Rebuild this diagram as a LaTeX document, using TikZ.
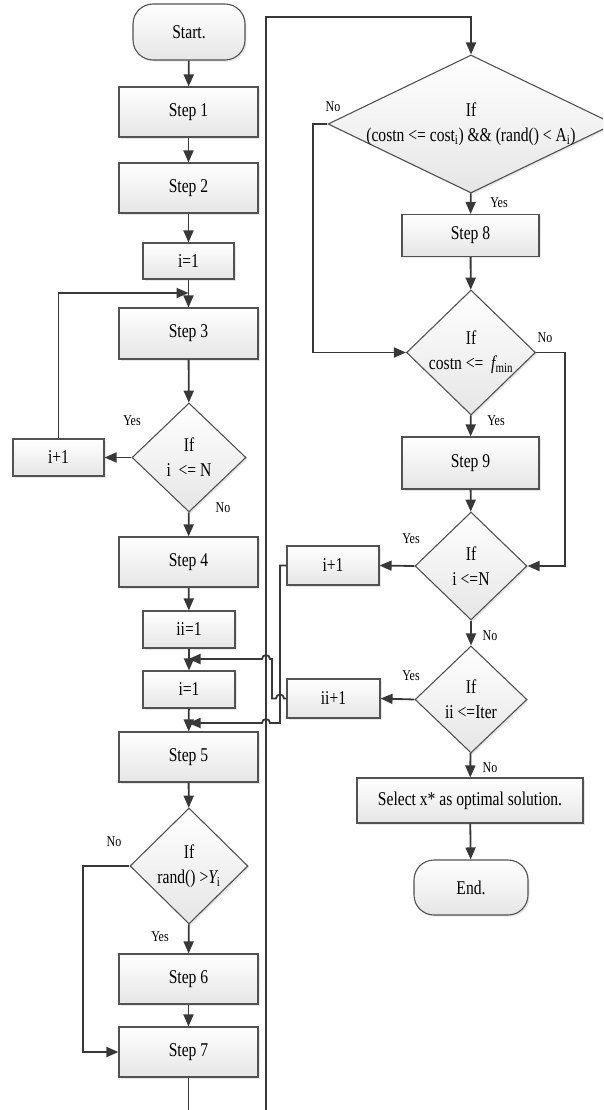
\documentclass[tikz,border=0pt]{standalone}
\usepackage{fontspec}
\setmainfont{Liberation Serif}[FakeStretch=0.8]
\usetikzlibrary{arrows.meta,shapes.geometric,shadows}

\tikzset{
  box/.style={draw=black!68, line width=1.1pt, top color=white, bottom color=black!10,
    drop shadow={shadow xshift=1.6pt, shadow yshift=-1.6pt, opacity=0.2},
    inner sep=0pt, font=\fontsize{19.5}{25}\selectfont, align=center},
  term/.style={box, rounded corners=20pt},
  dia/.style={box, diamond, aspect=1},
  dtext/.style={font=\fontsize{19.5}{25}\selectfont, align=center, inner sep=0pt},
  lbl/.style={font=\fontsize{15}{18}\selectfont, inner sep=0pt},
  wire/.style={draw=black!78, line width=1.8pt},
  flow/.style={wire, -{Triangle[length=12pt,width=10pt]}},
}

\begin{document}
\begin{tikzpicture}[x=1pt, y=-1pt]
\useasboundingbox (0,0) rectangle (603,1110);
\clip (0,0) rectangle (603,1110);

% ---- left column ----
\node[term, minimum width=112pt, minimum height=56pt] (start) at (189,32) {Start.};
\node[box, minimum width=139pt, minimum height=50pt] (s1) at (188.5,112) {Step 1};
\node[box, minimum width=139pt, minimum height=50pt] (s2) at (188.5,188) {Step 2};
\node[box, minimum width=91pt, minimum height=36pt] (i1) at (188.5,261) {i=1};
\node[box, minimum width=139pt, minimum height=51pt] (s3) at (188.5,333.5) {Step 3};
\node[dia, minimum width=114pt, minimum height=109pt] (d1) at (189,457.5) {};
\node[dtext] (d1t) at (d1) {If\\i \ <= N};
\node[box, minimum width=91pt, minimum height=37pt] (ip1L) at (58.5,457.5) {i+1};
\node[box, minimum width=139pt, minimum height=50pt] (s4) at (188.5,562) {Step 4};
\node[box, minimum width=92pt, minimum height=37pt] (ii1) at (189,629.5) {ii=1};
\node[box, minimum width=92pt, minimum height=37pt] (i1b) at (189,689.5) {i=1};
\node[box, minimum width=139pt, minimum height=50pt] (s5) at (188.5,757) {Step 5};
\node[dia, minimum width=118pt, minimum height=116pt] (d2) at (189,866) {};
\node[dtext] (d2t) at (d2) {If\\rand() >{\itshape Y}\textsubscript{i}};
\node[box, minimum width=139pt, minimum height=50pt] (s6) at (188.5,979) {Step 6};
\node[box, minimum width=139pt, minimum height=50pt] (s7) at (188.5,1052) {Step 7};

% ---- right column ----
\node[dia, minimum width=286pt, minimum height=138pt] (D1) at (471,124) {};
\node[dtext] (D1t) at (D1) {If\\(costn <= cost\textsubscript{i}) \&\& (rand() < A\textsubscript{i})};
\node[box, minimum width=137pt, minimum height=42pt] (s8) at (470.5,235.5) {Step 8};
\node[dia, minimum width=129pt, minimum height=125pt] (D2) at (471,352.5) {};
\node[dtext] (D2t) at (D2) {If\\costn <= \ {\itshape f}\textsubscript{min}};
\node[box, minimum width=137pt, minimum height=52pt] (s9) at (470.5,463) {Step 9};
\node[dia, minimum width=112pt, minimum height=108pt] (D3) at (471,566) {};
\node[dtext] (D3t) at (D3) {If\\i <=N};
\node[box, minimum width=92pt, minimum height=39pt] (ip1R) at (333,565.5) {i+1};
\node[dia, minimum width=112pt, minimum height=107pt] (D4) at (471,699.5) {};
\node[dtext] (D4t) at (D4) {If\\ii <=Iter};
\node[box, minimum width=93pt, minimum height=39pt] (iip1) at (333.5,698.5) {ii+1};
\node[box, minimum width=226pt, minimum height=45pt] (sel) at (470,800.5) {Select x* as optimal solution.};
\node[term, minimum width=114pt, minimum height=55pt] (end) at (471,887.5) {End.};

% ---- branch labels ----
\node[lbl] (l1) at (132,421) {Yes};
\node[lbl] (l2) at (223,508) {No};
\node[lbl] (l3) at (114,842) {No};
\node[lbl] (l4) at (160,937) {Yes};
\node[lbl] (l5) at (333,107) {No};
\node[lbl] (l6) at (499,203) {Yes};
\node[lbl] (l7) at (545,338) {No};
\node[lbl] (l8) at (496,421) {Yes};
\node[lbl] (l9) at (411,539) {Yes};
\node[lbl] (l10) at (490,636) {No};
\node[lbl] (l11) at (411,676) {Yes};
\node[lbl] (l12) at (490,768) {No};

% ---- junctions and free ends ----
\coordinate (j1) at (188.5,293);
\coordinate (j2) at (188.5,659);
\coordinate (j3) at (188.5,723);
\coordinate (bot) at (266,1110);
\coordinate (top) at (266,17);
\coordinate (out) at (188.5,1110);

% ---- left column flow ----
\draw[flow] (start) -- (s1);
\draw[flow] (s1) -- (s2);
\draw[flow] (s2) -- (i1);
\draw[flow] (i1) -- (s3);
\draw[flow] (s3) -- (d1);
\draw[flow] (d1) -- (s4);
\draw[flow] (d1.west) -- (ip1L.east);
\draw[flow] (ip1L.north) |- (j1);
\draw[flow] (s4) -- (ii1);
\draw[flow] (ii1) -- (i1b);
\draw[flow] (i1b) -- (s5);
\draw[flow] (s5) -- (d2);
\draw[flow] (d2) -- (s6);
\draw[flow] (s6) -- (s7);
\draw[flow] (d2.west) -- (83,866) |- (s7.west);
\draw[wire] (s7.south) -- (out);

% ---- long return line to the right column ----
\draw[flow] (bot) -- (top) -| (D1.north);

% ---- right column flow ----
\draw[flow] (D1) -- (s8);
\draw[flow] (s8) -- (D2);
\draw[flow] (D1.west) -- (313,124) |- (D2.west);
\draw[flow] (D2) -- (s9);
\draw[flow] (D2.east) -- (565,352.5) |- (D3.east);
\draw[flow] (s9) -- (D3);
\draw[flow] (D3.west) -- (ip1R.east);
\draw[flow] (D3) -- (D4);
\draw[flow] (D4.west) -- (iip1.east);
\draw[flow] (D4) -- (sel);
\draw[flow] (sel) -- (end);

% ---- loop-backs with line hops ----
\draw[flow] (ip1R.west) -- (280,565.5) -- (280,723) -- (270,723)
  arc[start angle=0, end angle=-180, radius=4] -- (j3);
\draw[flow] (iip1.west) -- (284,698.5)
  arc[start angle=0, end angle=-180, radius=4] -- (272,698.5) -- (272,659) -- (270,659)
  arc[start angle=0, end angle=-180, radius=4] -- (j2);
\end{tikzpicture}
\end{document}
